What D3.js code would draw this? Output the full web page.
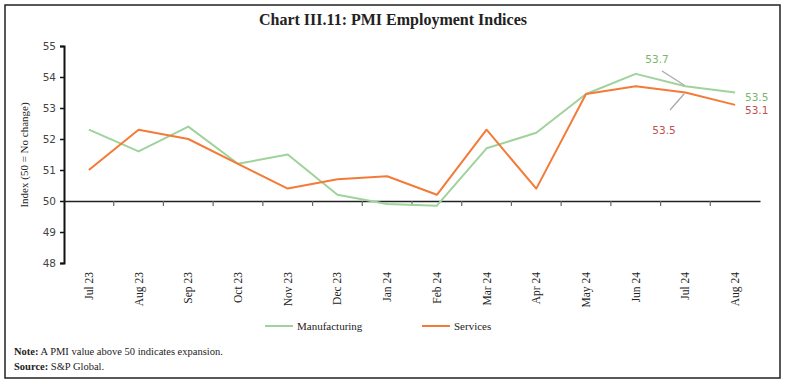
<!DOCTYPE html>
<html><head><meta charset="utf-8">
<script src="https://cdn.jsdelivr.net/npm/d3@7"></script>
<style>body{margin:0;background:#fff}svg{display:block}</style>
</head><body>
<svg id="c" width="786" height="386"></svg>
<script>
const categories = ["Jul 23","Aug 23","Sep 23","Oct 23","Nov 23","Dec 23","Jan 24","Feb 24","Mar 24","Apr 24","May 24","Jun 24","Jul 24","Aug 24"];
const manufacturing = [52.3,51.6,52.4,51.2,51.5,50.2,49.9,49.85,51.7,52.2,53.45,54.1,53.7,53.5];
const services = [51.0,52.3,52.0,51.2,50.4,50.7,50.8,50.2,52.3,50.4,53.45,53.7,53.5,53.1];
const yTicks = [48,49,50,51,52,53,54,55];
const seriesNames = ["Manufacturing","Services"];
const colors = ["#9fd39b","#f47a37"];

const svg = d3.select("#c");
const serif = "'Liberation Serif','DejaVu Serif',serif";
const sans = "'DejaVu Sans','Liberation Sans',sans-serif";

svg.append("rect").attr("x",5).attr("y",5).attr("width",775).attr("height",373)
  .attr("fill","none").attr("stroke","#222").attr("stroke-width",1.5);

svg.append("text").attr("x",393).attr("y",25).attr("text-anchor","middle")
  .attr("font-family",serif).attr("font-size",16).attr("font-weight","bold").attr("fill","#222")
  .text("Chart III.11: PMI Employment Indices");

const x = d3.scaleBand().domain(categories).range([64,760]);
const y = d3.scaleLinear().domain([48,55]).range([263,46]);

// y axis
const ya = svg.append("g").attr("transform","translate(64,0)")
  .call(d3.axisLeft(y).tickValues(yTicks).tickSize(4).tickFormat(d3.format("d")));
ya.select(".domain").attr("stroke","#111").attr("stroke-width",2);
ya.selectAll(".tick line").attr("stroke","#111").attr("stroke-width",1.5);
ya.selectAll("text").attr("font-family",sans).attr("font-size",10.5).attr("fill","#444").attr("x",-8);

// x axis at 50
const xa = svg.append("g").attr("transform",`translate(0,${y(50)})`)
  .call(d3.axisBottom(x).tickSize(0).tickFormat(""));
xa.select(".domain").attr("stroke","#222").attr("stroke-width",1.5);
// tick marks between categories
svg.append("g").selectAll("line").data(categories.slice(1)).join("line")
  .attr("x1",d=>x(d)).attr("x2",d=>x(d)).attr("y1",y(50)).attr("y2",y(50)+5)
  .attr("stroke","#666").attr("stroke-width",1.2);
// x labels at bottom
svg.append("g").selectAll("text").data(categories).join("text")
  .attr("transform",d=>`translate(${x(d)+x.bandwidth()/2+4},272) rotate(-90)`)
  .attr("text-anchor","end").attr("font-family",serif).attr("font-size",11.5).attr("fill","#222")
  .text(d=>d);

// y label
svg.append("text").attr("transform","translate(28,155) rotate(-90)").attr("text-anchor","middle")
  .attr("font-family",serif).attr("font-size",11).attr("fill","#222").text("Index (50 = No change)");

// lines
const line = d3.line().x((d,i)=>x(categories[i])+x.bandwidth()/2).y(d=>y(d));
[manufacturing,services].forEach((s,k)=>{
  svg.append("path").datum(s).attr("d",line).attr("fill","none")
    .attr("stroke",colors[k]).attr("stroke-width",2).attr("stroke-linejoin","round");
});

// annotations
const cx = i=>x(categories[i])+x.bandwidth()/2;
svg.append("line").attr("x1",662).attr("y1",71).attr("x2",cx(12)-1).attr("y2",y(manufacturing[12])-1)
  .attr("stroke","#aaa").attr("stroke-width",1.3);
svg.append("line").attr("x1",670).attr("y1",110).attr("x2",cx(12)-1).attr("y2",y(services[12])+1)
  .attr("stroke","#aaa").attr("stroke-width",1.3);
svg.append("text").attr("x",657).attr("y",63).attr("text-anchor","middle").attr("font-family",sans)
  .attr("font-size",10.5).attr("fill","#7bb56a").text(d3.format(".1f")(manufacturing[12]));
svg.append("text").attr("x",664).attr("y",134).attr("text-anchor","middle").attr("font-family",sans)
  .attr("font-size",10.5).attr("fill","#c0504d").text(d3.format(".1f")(services[12]));
svg.append("text").attr("x",745).attr("y",101).attr("font-family",sans)
  .attr("font-size",10.5).attr("fill","#7bb56a").text(d3.format(".1f")(manufacturing[13]));
svg.append("text").attr("x",745).attr("y",114).attr("font-family",sans)
  .attr("font-size",10.5).attr("fill","#c0504d").text(d3.format(".1f")(services[13]));

// legend
const lg = [{x:265},{x:422}];
seriesNames.forEach((n,k)=>{
  svg.append("line").attr("x1",lg[k].x).attr("x2",lg[k].x+28).attr("y1",326).attr("y2",326)
    .attr("stroke",colors[k]).attr("stroke-width",2);
  svg.append("text").attr("x",lg[k].x+32).attr("y",330).attr("font-family",serif).attr("font-size",11)
    .attr("fill","#222").text(n);
});

// notes
const n1 = svg.append("text").attr("x",14).attr("y",355).attr("font-family",serif).attr("font-size",10.5).attr("fill","#222");
n1.append("tspan").attr("font-weight","bold").text("Note:");
n1.append("tspan").text(" A PMI value above 50 indicates expansion.");
const n2 = svg.append("text").attr("x",14).attr("y",370).attr("font-family",serif).attr("font-size",10.5).attr("fill","#222");
n2.append("tspan").attr("font-weight","bold").text("Source:");
n2.append("tspan").text(" S&P Global.");
</script>
</body></html>
